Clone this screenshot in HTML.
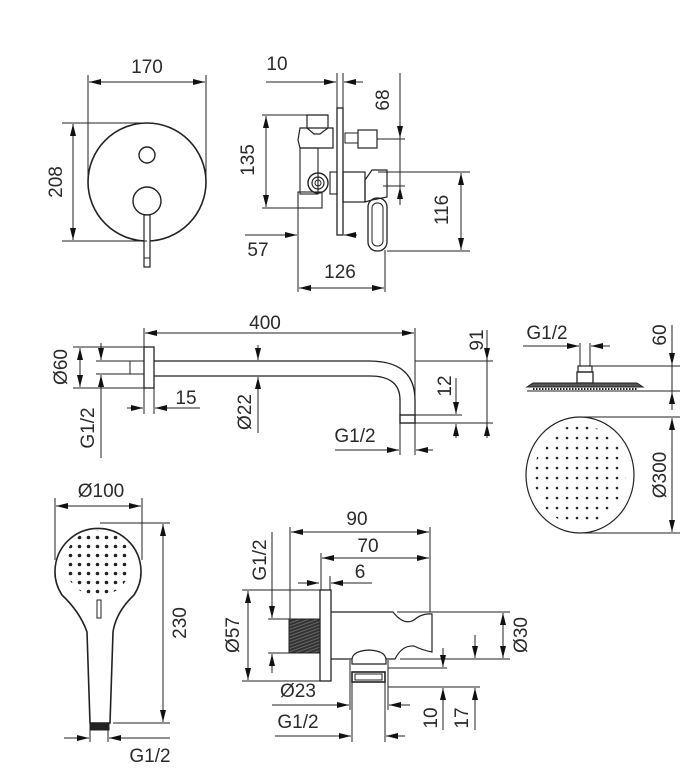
<!DOCTYPE html>
<html><head><meta charset="utf-8"><style>
html,body{margin:0;padding:0;background:#fff}
svg{display:block}
text{font-family:"Liberation Sans",sans-serif;font-size:19px;fill:#2a2a2a}
</style></head><body>
<svg width="685" height="781" viewBox="0 0 685 781" xmlns="http://www.w3.org/2000/svg">
<defs>
<marker id="a" viewBox="0 0 12 6" refX="12" refY="3" markerWidth="12" markerHeight="6" markerUnits="userSpaceOnUse" orient="auto-start-reverse"><path d="M0,0L12,3L0,6z" fill="#111"/></marker>
<pattern id="pd" width="10" height="10" patternUnits="userSpaceOnUse" x="2" y="3"><circle cx="5" cy="5" r="1.3" fill="#222"/></pattern>
<pattern id="hd" width="9" height="9" patternUnits="userSpaceOnUse" x="3" y="2"><circle cx="4.5" cy="4.5" r="1.8" fill="#222"/></pattern>
<pattern id="th" width="3" height="3" patternUnits="userSpaceOnUse" patternTransform="rotate(-20)"><rect width="3" height="3" fill="#333"/><rect width="3" height="1" fill="#666"/></pattern>
</defs>
<g fill="none" stroke="#222" stroke-width="1">
<circle cx="147" cy="182" r="59" stroke-width="1.6"/>
<circle cx="147" cy="155" r="8" stroke-width="1.4"/>
<circle cx="147" cy="201" r="14" stroke-width="1.4"/>
<rect x="144" y="215" width="6" height="52" fill="#fff" stroke-width="1.2"/>
<line x1="144" y1="258" x2="150" y2="258"/>
<line x1="88" y1="75" x2="88" y2="182"/><line x1="206" y1="75" x2="206" y2="182"/>
<line x1="89" y1="82" x2="205" y2="82" marker-start="url(#a)" marker-end="url(#a)"/>
<line x1="62" y1="123" x2="147" y2="123"/><line x1="62" y1="241" x2="147" y2="241"/>
<line x1="73" y1="124" x2="73" y2="240" marker-start="url(#a)" marker-end="url(#a)"/>
<rect x="337" y="108" width="6" height="127" stroke-width="1.3"/>
<line x1="337" y1="73" x2="337" y2="108"/><line x1="343" y1="73" x2="343" y2="108"/>
<line x1="266" y1="82" x2="336" y2="82" marker-end="url(#a)"/>
<line x1="363" y1="82" x2="344" y2="82" marker-end="url(#a)"/>
<path d="M307,115 L328,115 L328,128 L320,134 L314,134 L307,128 Z" stroke-width="1.2"/>
<path d="M300,128 L333,128 L333,148 L300,148 L298,140 Z" stroke-width="1.2"/>
<rect x="300" y="148" width="18" height="46" stroke-width="1.1"/>
<circle cx="318" cy="183" r="10" stroke-width="1.4"/><circle cx="318" cy="183" r="6" stroke-width="1.2"/><circle cx="318" cy="183" r="3"/>
<rect x="298" y="192" width="24" height="16" stroke-width="1.1"/>
<rect x="330" y="172" width="7" height="22" stroke-width="1.1"/>
<rect x="345" y="133" width="13" height="10"/><rect x="358" y="130" width="19" height="18" stroke-width="1.2"/>
<rect x="343" y="172" width="22" height="30" stroke-width="1.2"/>
<path d="M365,202 L365,180 L372,170 L387,170 L387,197 L372,200 Z" stroke-width="1.2"/>
<rect x="368" y="198" width="19" height="53" rx="9" stroke-width="1.3"/><rect x="372" y="203" width="11" height="43" rx="5"/>
<line x1="400" y1="73" x2="400" y2="205"/>
<line x1="400" y1="120" x2="400" y2="138" marker-end="url(#a)"/>
<line x1="400" y1="205" x2="400" y2="187" marker-end="url(#a)"/>
<line x1="377" y1="139" x2="405" y2="139"/><line x1="383" y1="186" x2="405" y2="186"/>
<line x1="262" y1="115" x2="328" y2="115"/><line x1="262" y1="208" x2="322" y2="208"/>
<line x1="266" y1="116" x2="266" y2="207" marker-start="url(#a)" marker-end="url(#a)"/>
<line x1="378" y1="172" x2="470" y2="172"/><line x1="387" y1="251" x2="470" y2="251"/>
<line x1="461" y1="173" x2="461" y2="250" marker-start="url(#a)" marker-end="url(#a)"/>
<line x1="298" y1="195" x2="298" y2="292"/><line x1="385" y1="250" x2="385" y2="292"/>
<line x1="245" y1="235" x2="297" y2="235" marker-end="url(#a)"/>
<line x1="357" y1="235" x2="344" y2="235" marker-end="url(#a)"/>
<line x1="299" y1="288" x2="384" y2="288" marker-start="url(#a)" marker-end="url(#a)"/>
<rect x="144" y="347" width="10" height="41" stroke-width="1.3"/>
<rect x="130" y="361" width="14" height="13"/>
<path d="M154,361 L369,361 Q415,361 415,400 L415,415 M154,376 L370,376 Q400,376 400,400 L400,415" stroke-width="1.3"/>
<rect x="400" y="415" width="15" height="8" stroke-width="1.4"/>
<line x1="144" y1="328" x2="144" y2="347"/><line x1="415" y1="328" x2="415" y2="415"/>
<line x1="145" y1="333" x2="414" y2="333" marker-start="url(#a)" marker-end="url(#a)"/>
<line x1="73" y1="347" x2="144" y2="347"/><line x1="73" y1="388" x2="144" y2="388"/>
<line x1="80" y1="348" x2="80" y2="387" marker-start="url(#a)" marker-end="url(#a)"/>
<line x1="96" y1="361" x2="130" y2="361"/><line x1="96" y1="374" x2="130" y2="374"/>
<line x1="101" y1="343" x2="101" y2="360" marker-end="url(#a)"/>
<line x1="101" y1="458" x2="101" y2="375" marker-end="url(#a)"/>
<line x1="144" y1="388" x2="144" y2="414"/><line x1="154" y1="388" x2="154" y2="414"/>
<line x1="127" y1="408" x2="143" y2="408" marker-end="url(#a)"/>
<line x1="200" y1="408" x2="155" y2="408" marker-end="url(#a)"/>
<line x1="258" y1="345" x2="258" y2="360" marker-end="url(#a)"/>
<line x1="258" y1="433" x2="258" y2="377" marker-end="url(#a)"/>
<line x1="415" y1="361" x2="493" y2="361"/><line x1="415" y1="423" x2="493" y2="423"/><line x1="415" y1="415" x2="462" y2="415"/>
<line x1="487" y1="330" x2="487" y2="438"/>
<line x1="487" y1="340" x2="487" y2="360" marker-end="url(#a)"/>
<line x1="487" y1="438" x2="487" y2="424" marker-end="url(#a)"/>
<line x1="456" y1="378" x2="456" y2="414" marker-end="url(#a)"/>
<line x1="456" y1="438" x2="456" y2="424" marker-end="url(#a)"/>
<line x1="400" y1="423" x2="400" y2="455"/><line x1="415" y1="423" x2="415" y2="455"/>
<line x1="335" y1="450" x2="399" y2="450" marker-end="url(#a)"/>
<line x1="433" y1="450" x2="416" y2="450" marker-end="url(#a)"/>
<line x1="580" y1="343" x2="580" y2="366"/><line x1="590" y1="343" x2="590" y2="366"/>
<line x1="523" y1="346" x2="579" y2="346" marker-end="url(#a)"/>
<line x1="610" y1="346" x2="591" y2="346" marker-end="url(#a)"/>
<rect x="578" y="366" width="14" height="6" stroke-width="1.2"/>
<rect x="577" y="372" width="16" height="11" stroke-width="1.3"/>
<path d="M533,383 L637,383 L643,387 L527,387 Z" fill="#555" stroke-width="1"/>
<line x1="533" y1="389" x2="637" y2="389" stroke-dasharray="1.5 1.5" stroke-width="2"/>
<line x1="592" y1="366" x2="680" y2="366"/><line x1="527" y1="391" x2="680" y2="391"/>
<line x1="672" y1="325" x2="672" y2="410"/>
<line x1="672" y1="340" x2="672" y2="365" marker-end="url(#a)"/>
<line x1="672" y1="410" x2="672" y2="392" marker-end="url(#a)"/>
<ellipse cx="580" cy="475" rx="54" ry="58" stroke-width="1.2"/>
<ellipse cx="580" cy="475" rx="46" ry="50" fill="url(#pd)" stroke="none"/>
<line x1="583" y1="417" x2="680" y2="417"/><line x1="583" y1="533" x2="680" y2="533"/>
<line x1="672" y1="418" x2="672" y2="532" marker-start="url(#a)" marker-end="url(#a)"/>
<path d="M62,595 A43,43 0 1 1 134,595 Q116,612 113,632 L110,723 L90,723 L87,632 Q80,612 62,595 Z" stroke-width="1.6"/>
<circle cx="98" cy="563" r="33" fill="url(#hd)" stroke="none"/>
<rect x="97" y="600" width="4" height="18" fill="#fff"/>
<rect x="90" y="723" width="19" height="7" fill="#222"/>
<line x1="55" y1="498" x2="55" y2="560"/><line x1="142" y1="498" x2="142" y2="560"/>
<line x1="56" y1="506" x2="141" y2="506" marker-start="url(#a)" marker-end="url(#a)"/>
<line x1="100" y1="523" x2="170" y2="523"/><line x1="113" y1="723" x2="170" y2="723"/>
<line x1="163" y1="524" x2="163" y2="722" marker-start="url(#a)" marker-end="url(#a)"/>
<line x1="90" y1="730" x2="90" y2="742"/><line x1="108" y1="730" x2="108" y2="742"/>
<line x1="64" y1="738" x2="89" y2="738" marker-end="url(#a)"/>
<line x1="170" y1="738" x2="109" y2="738" marker-end="url(#a)"/>
<rect x="320" y="590" width="11" height="91" stroke-width="1.3"/>
<rect x="289" y="619" width="31" height="34" fill="url(#th)" stroke-width="1"/>
<path d="M331,612 L393,612 Q404,626 414,620 Q422,613 432,614 L432,652 Q422,650 414,646 Q402,645 395,659 L386,659 M352,659 L331,659" stroke-width="1.2"/>
<path d="M352,660 Q352,651 369,650 Q386,651 386,660 L386,664 L352,664 Z" stroke-width="1.2"/>
<rect x="352" y="672" width="33" height="10" stroke-width="1.6"/><rect x="355" y="674" width="27" height="6"/>
<line x1="290" y1="527" x2="290" y2="619"/><line x1="321" y1="553" x2="321" y2="590"/><line x1="330" y1="576" x2="330" y2="590"/><line x1="430" y1="527" x2="430" y2="612"/>
<line x1="291" y1="532" x2="429" y2="532" marker-start="url(#a)" marker-end="url(#a)"/>
<line x1="322" y1="558" x2="429" y2="558" marker-start="url(#a)" marker-end="url(#a)"/>
<line x1="298" y1="583" x2="319" y2="583" marker-end="url(#a)"/>
<line x1="372" y1="583" x2="331" y2="583" marker-end="url(#a)"/>
<line x1="268" y1="619" x2="290" y2="619"/><line x1="268" y1="653" x2="290" y2="653"/>
<line x1="272" y1="532" x2="272" y2="618" marker-end="url(#a)"/>
<line x1="272" y1="673" x2="272" y2="654" marker-end="url(#a)"/>
<line x1="242" y1="590" x2="321" y2="590"/><line x1="242" y1="681" x2="321" y2="681"/>
<line x1="248" y1="591" x2="248" y2="680" marker-start="url(#a)" marker-end="url(#a)"/>
<line x1="350" y1="660" x2="350" y2="710"/><line x1="388" y1="660" x2="388" y2="710"/>
<line x1="352" y1="682" x2="352" y2="742"/><line x1="385" y1="682" x2="385" y2="742"/>
<line x1="272" y1="705" x2="349" y2="705" marker-end="url(#a)"/>
<line x1="410" y1="705" x2="389" y2="705" marker-end="url(#a)"/>
<line x1="275" y1="736" x2="351" y2="736" marker-end="url(#a)"/>
<line x1="405" y1="736" x2="386" y2="736" marker-end="url(#a)"/>
<line x1="388" y1="668" x2="447" y2="668"/><line x1="388" y1="687" x2="480" y2="687"/><line x1="400" y1="659" x2="510" y2="659"/><line x1="397" y1="612" x2="510" y2="612"/>
<line x1="443" y1="648" x2="443" y2="667" marker-end="url(#a)"/>
<line x1="443" y1="730" x2="443" y2="688" marker-end="url(#a)"/>
<line x1="475" y1="635" x2="475" y2="658" marker-end="url(#a)"/>
<line x1="475" y1="730" x2="475" y2="688" marker-end="url(#a)"/>
<line x1="503" y1="613" x2="503" y2="658" marker-start="url(#a)" marker-end="url(#a)"/>
</g>
<g>
<text x="147" y="73" text-anchor="middle">170</text>
<text transform="translate(62,182) rotate(-90)" text-anchor="middle">208</text>
<text x="277" y="70" text-anchor="middle">10</text>
<text transform="translate(389,100) rotate(-90)" text-anchor="middle">68</text>
<text transform="translate(254,160) rotate(-90)" text-anchor="middle">135</text>
<text transform="translate(448,210) rotate(-90)" text-anchor="middle">116</text>
<text x="258" y="256" text-anchor="middle">57</text>
<text x="340" y="278" text-anchor="middle">126</text>
<text x="265" y="329" text-anchor="middle">400</text>
<text transform="translate(67,367) rotate(-90)" text-anchor="middle">Ø60</text>
<text transform="translate(94,428) rotate(-90)" text-anchor="middle">G1/2</text>
<text x="186" y="404" text-anchor="middle">15</text>
<text transform="translate(251,412) rotate(-90)" text-anchor="middle">Ø22</text>
<text transform="translate(483,340) rotate(-90)" text-anchor="middle">91</text>
<text transform="translate(451,386) rotate(-90)" text-anchor="middle">12</text>
<text x="355" y="442" text-anchor="middle">G1/2</text>
<text x="547" y="339" text-anchor="middle">G1/2</text>
<text transform="translate(666,335) rotate(-90)" text-anchor="middle">60</text>
<text transform="translate(666,475) rotate(-90)" text-anchor="middle">Ø300</text>
<text x="101" y="497" text-anchor="middle">Ø100</text>
<text transform="translate(186,623) rotate(-90)" text-anchor="middle">230</text>
<text x="150" y="762" text-anchor="middle">G1/2</text>
<text x="357" y="525" text-anchor="middle">90</text>
<text x="368" y="552" text-anchor="middle">70</text>
<text x="360" y="578" text-anchor="middle">6</text>
<text transform="translate(266,560) rotate(-90)" text-anchor="middle">G1/2</text>
<text transform="translate(239,635) rotate(-90)" text-anchor="middle">Ø57</text>
<text x="298" y="697" text-anchor="middle">Ø23</text>
<text x="298" y="728" text-anchor="middle">G1/2</text>
<text transform="translate(437,718) rotate(-90)" text-anchor="middle">10</text>
<text transform="translate(468,718) rotate(-90)" text-anchor="middle">17</text>
<text transform="translate(527,635) rotate(-90)" text-anchor="middle">Ø30</text>
</g>
</svg>
</body></html>
